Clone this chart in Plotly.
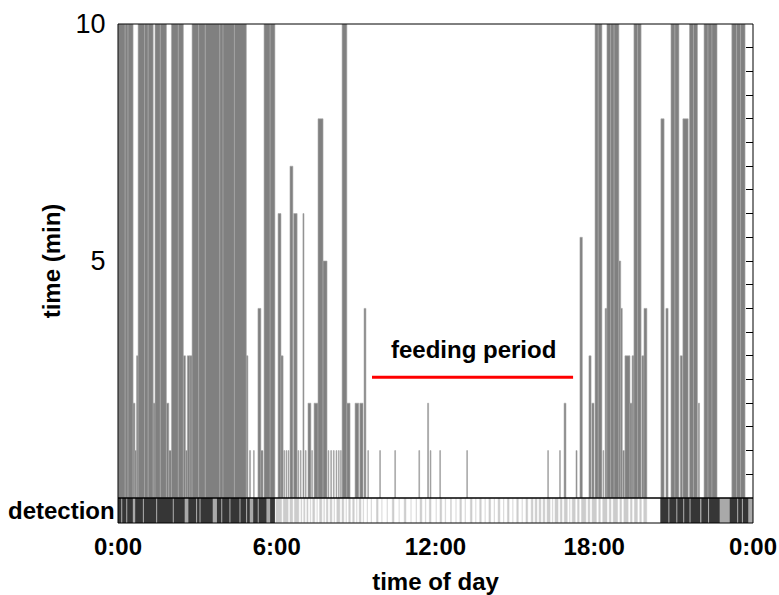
import plotly.graph_objects as go

# ---------------- data ----------------
# immobility bouts: start (h), end (h), duration shown (min, capped at 10)
bout_start = [0.00, 0.27, 0.38, 0.57, 0.64, 0.70, 0.76, 1.00, 1.14, 1.33, 1.40, 1.60, 1.83, 1.92,
              2.02, 2.28, 2.47, 2.55, 2.62, 2.72, 2.80, 3.05, 3.30, 3.85, 3.97, 4.40, 4.85, 4.97,
              5.12, 5.29, 5.40, 5.52, 5.75, 6.05, 6.16, 6.27, 6.35, 6.43, 6.50, 6.64, 6.80, 6.89,
              6.99, 7.08, 7.18, 7.32, 7.41, 7.56, 7.75, 7.94, 8.04, 8.14, 8.24, 8.33, 8.41, 8.47,
              8.65, 8.96, 9.14, 9.30, 9.44, 9.89, 10.46, 11.37, 11.70, 11.80, 12.16, 13.18,
              16.24, 16.69, 16.86, 17.31, 17.46, 17.80, 17.91, 18.03, 18.15, 18.33, 18.41, 18.48,
              18.62, 18.75, 18.93, 19.00, 19.08, 19.16, 19.35, 19.43, 19.50, 19.64, 19.80, 19.88,
              20.52, 20.71, 20.90, 21.05, 21.25, 21.35, 21.60, 21.75, 21.93, 22.15, 22.30, 22.45,
              23.20, 23.38, 23.53]
bout_end = [0.27, 0.38, 0.57, 0.64, 0.70, 0.76, 1.00, 1.14, 1.33, 1.40, 1.60, 1.83, 1.92, 2.02,
            2.28, 2.47, 2.55, 2.62, 2.72, 2.80, 3.05, 3.30, 3.85, 3.97, 4.40, 4.85, 4.91, 5.01,
            5.15, 5.40, 5.48, 5.75, 5.93, 6.16, 6.24, 6.30, 6.38, 6.46, 6.61, 6.77, 6.83, 6.92,
            7.03, 7.11, 7.29, 7.35, 7.56, 7.75, 7.90, 7.97, 8.07, 8.17, 8.27, 8.36, 8.44, 8.65,
            8.77, 9.10, 9.26, 9.37, 9.47, 9.92, 10.49, 11.40, 11.74, 11.83, 12.19, 13.21,
            16.27, 16.72, 16.93, 17.35, 17.55, 17.88, 17.99, 18.15, 18.29, 18.36, 18.48, 18.62,
            18.75, 18.93, 19.00, 19.06, 19.14, 19.35, 19.43, 19.50, 19.64, 19.77, 19.88, 19.99,
            20.64, 20.79, 21.05, 21.20, 21.33, 21.55, 21.75, 21.90, 21.98, 22.30, 22.45, 22.64,
            23.38, 23.53, 23.70]
bout_min = [10, 10, 10, 2, 1, 3, 10, 10, 10, 2, 10, 10, 2, 1,
            10, 10, 3, 1, 3, 3, 10, 10, 10, 10, 10, 10, 3, 1,
            1, 4, 1, 10, 10, 6, 3, 1, 1, 1, 7, 6, 1, 1,
            6, 1, 2, 1, 2, 8, 5, 1, 1, 1, 1, 1, 1, 10,
            2, 2, 2, 4, 1, 1, 1, 1, 2, 1, 1, 1,
            1, 1, 2, 1, 5.5, 3, 2, 10, 10, 1, 4, 10,
            10, 10, 5, 4, 1, 3, 2, 3, 10, 10, 3, 4,
            8, 4, 10, 10, 3, 8, 10, 10, 2, 10, 10, 10,
            10, 10, 10]

# detection strip
dark_phase_start = [0.00, 20.50]
dark_phase_end = [5.93, 24.00]
night_det_start = [0.00, 0.16, 0.35, 0.65, 0.98, 1.48, 2.11, 2.66, 2.99, 3.12, 3.74, 3.94, 4.25,
                   4.63, 4.88, 5.11, 5.32, 5.75, 20.50, 20.84, 21.14, 21.40, 21.64, 22.05, 22.34,
                   23.12, 23.44, 23.62]
night_det_end = [0.12, 0.31, 0.56, 0.94, 1.44, 2.07, 2.52, 2.95, 3.08, 3.58, 3.90, 4.21, 4.59,
                 4.84, 4.98, 5.28, 5.61, 5.93, 20.80, 21.10, 21.36, 21.60, 22.00, 22.30, 22.74,
                 23.40, 23.58, 23.82]
day_det_start = [5.95, 6.23, 6.48, 6.65, 6.90, 7.00, 7.12, 7.25, 7.34, 7.50, 7.60, 7.76, 7.86,
                 8.00, 8.15, 8.25, 8.45, 8.60, 8.70, 8.85, 9.00, 9.10, 9.25, 9.40, 9.55, 9.75,
                 9.95, 10.15, 10.35, 10.60, 10.80, 11.05, 11.25, 11.40, 11.60, 11.75, 12.00,
                 12.15, 12.35, 12.55, 12.75, 12.90, 13.10, 13.30, 13.50, 13.65, 13.85, 14.00,
                 14.20, 14.35, 14.55, 14.70, 14.90, 15.05, 15.25, 15.40, 15.60, 15.75, 15.90,
                 16.05, 16.20, 16.40, 16.50, 16.70, 16.85, 17.05, 17.15, 17.35, 17.50, 17.75,
                 17.90, 18.15, 18.30, 18.55, 18.70, 18.95, 19.10, 19.35, 19.50, 19.70, 19.85]
day_det_end = [6.20, 6.45, 6.62, 6.85, 6.96, 7.08, 7.20, 7.30, 7.45, 7.55, 7.72, 7.82, 7.95,
               8.10, 8.20, 8.40, 8.55, 8.65, 8.80, 8.95, 9.05, 9.20, 9.30, 9.45, 9.60, 9.85,
               10.00, 10.20, 10.45, 10.65, 10.90, 11.10, 11.30, 11.50, 11.65, 11.85, 12.05,
               12.25, 12.40, 12.62, 12.80, 13.00, 13.15, 13.40, 13.55, 13.75, 13.90, 14.10,
               14.25, 14.45, 14.60, 14.80, 14.95, 15.15, 15.30, 15.50, 15.70, 15.85, 16.00,
               16.15, 16.35, 16.45, 16.65, 16.80, 17.00, 17.10, 17.30, 17.45, 17.70, 17.85,
               18.10, 18.25, 18.50, 18.65, 18.90, 19.05, 19.30, 19.45, 19.65, 19.80, 20.00]

feeding_start, feeding_end = 9.6, 17.2
feeding_level = 2.55

x_tickvals = [0, 6, 12, 18, 24]
x_ticktext = ["0:00", "6:00", "12:00", "18:00", "0:00"]
y_tickvals = [5, 10]
y_ticktext = ["5", "10"]

# ---------------- figure ----------------
FONT = "Liberation Sans, Arial, sans-serif"
STRIP = 25 / 499


def seg(starts, ends):
    return [(s + e) / 2 for s, e in zip(starts, ends)], [e - s for s, e in zip(starts, ends)]


fig = go.Figure()

bx, bw = seg(bout_start, bout_end)
fig.add_trace(go.Bar(x=bx, width=bw, y=bout_min, base=0, xaxis="x", yaxis="y",
                     marker=dict(color="#808080", line=dict(color="#a8a8a8", width=0.6)),
                     showlegend=False, hoverinfo="skip"))

px_, pw = seg(dark_phase_start, dark_phase_end)
fig.add_trace(go.Bar(x=px_, width=pw, y=[1] * len(px_), base=0, xaxis="x", yaxis="y2",
                     marker=dict(color="#a9a9a9", line=dict(width=0)),
                     showlegend=False, hoverinfo="skip"))
nx, nw = seg(night_det_start, night_det_end)
fig.add_trace(go.Bar(x=nx, width=nw, y=[1] * len(nx), base=0, xaxis="x", yaxis="y2",
                     marker=dict(color="#363636", line=dict(width=0)),
                     showlegend=False, hoverinfo="skip"))
dx, dw = seg(day_det_start, day_det_end)
fig.add_trace(go.Bar(x=dx, width=dw, y=[1] * len(dx), base=0, xaxis="x", yaxis="y2",
                     marker=dict(color="#cccccc", line=dict(color="white", width=0.5)),
                     showlegend=False, hoverinfo="skip"))

# invisible trace so the right-hand tick axis is drawn
fig.add_trace(go.Scatter(x=[0], y=[0], xaxis="x", yaxis="y3", mode="markers",
                         marker=dict(opacity=0), showlegend=False, hoverinfo="skip"))

fig.update_layout(
    width=779, height=595,
    margin=dict(l=118, r=26, t=24, b=72, autoexpand=False),
    paper_bgcolor="white", plot_bgcolor="white",
    barmode="overlay",
    font=dict(family=FONT, color="black"),
    xaxis=dict(domain=[0, 1], range=[0, 24], anchor="y2", automargin=False,
               tickvals=x_tickvals, ticktext=["<b>%s</b>" % t for t in x_ticktext],
               tickfont=dict(size=24), ticks="outside", ticklen=2, tickcolor="rgba(0,0,0,0)",
               showgrid=False, zeroline=False, showline=False,
               title=dict(text="<b>time of day</b>", font=dict(size=24), standoff=14)),
    yaxis=dict(domain=[STRIP, 1], range=[0, 10], anchor="x", automargin=False,
               tickvals=y_tickvals, ticktext=y_ticktext, tickfont=dict(size=27),
               ticks="outside", ticklen=6, tickcolor="rgba(0,0,0,0)",
               showgrid=False, zeroline=False, showline=False,
               title=dict(text="<b>time (min)</b>", font=dict(size=24), standoff=8)),
    yaxis2=dict(domain=[0, STRIP], range=[0, 1], anchor="x", automargin=False,
                showticklabels=False, showgrid=False, zeroline=False, ticks=""),
    yaxis3=dict(overlaying="y", side="right", anchor="x", range=[0, 10], dtick=0.5,
                automargin=False,
                ticks="inside", ticklen=7, tickcolor="black", tickwidth=1,
                showticklabels=False, showgrid=False, zeroline=False, showline=False),
    shapes=[
        dict(type="rect", xref="paper", yref="paper", x0=0, x1=1, y0=STRIP, y1=1,
             line=dict(color="black", width=1), layer="above"),
        dict(type="rect", xref="paper", yref="paper", x0=0, x1=1, y0=0, y1=STRIP,
             line=dict(color="black", width=1), layer="above"),
        dict(type="line", xref="x", yref="y", x0=feeding_start, x1=feeding_end,
             y0=feeding_level, y1=feeding_level, line=dict(color="#ff0000", width=3)),
    ],
    annotations=[
        dict(text="<b>feeding period</b>", x=(feeding_start + feeding_end) / 2 + 0.05,
             y=3.14, xref="x", yref="y", showarrow=False, font=dict(size=24)),
        dict(text="<b>detection</b>", x=0, y=0.5, xref="paper", yref="y2",
             xanchor="right", yanchor="middle", xshift=-1, showarrow=False,
             font=dict(size=24)),
    ],
)

fig.write_html("out.html")
